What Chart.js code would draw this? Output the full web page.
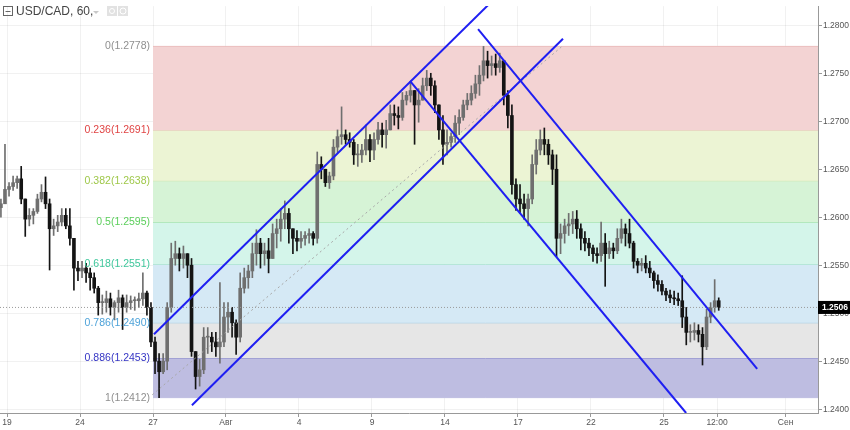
<!DOCTYPE html>
<html>
<head>
<meta charset="utf-8">
<script src="https://cdn.jsdelivr.net/npm/chart.js@4.4.0/dist/chart.umd.min.js"></script>
<style>
  html, body { margin: 0; padding: 0; background: #fff; }
  #wrap { width: 850px; height: 430px; }
</style>
</head>
<body>
<div id="wrap"><canvas id="fxChart" width="850" height="430"></canvas></div>
<script>
// ---- dane ----
const symbolTitle = 'USD/CAD, 60,';

// os X w dniach handlowych (0 = 19 lipca)
const xMin = -0.288;
const xMax = 33.33;
const xTickDays = [0, 3, 6, 9, 12, 15, 18, 21, 24, 27, 29.18, 32];
const xTickLabels = ['19', '24', '27', 'Авг', '4', '9', '14', '17', '22', '25', '12:00', 'Сен'];

const yMin = 1.2396;
const yMax = 1.2820;
const yTicks = [1.2400, 1.2450, 1.2500, 1.2550, 1.2600, 1.2650, 1.2700, 1.2750, 1.2800];

// swiece co ~4h
const candleStartDay = -0.25;
const candleStepDay = 1 / 6;
const firstOpen = 1.2610;

const highs = [1.2619,1.2676,1.2636,1.2643,1.2643,1.2653,1.2614,1.2609,1.2609,1.2624,
1.2634,1.2642,1.2619,1.2598,1.2602,1.2609,1.2609,1.2609,1.2578,1.2554,
1.2554,1.2552,1.2547,1.2542,1.2528,1.2519,1.2523,1.2521,1.2513,1.2524,
1.2519,1.2519,1.2518,1.2517,1.2521,1.2542,1.2523,1.2511,1.2475,1.2458,
1.2458,1.2511,1.2573,1.2575,1.2568,1.2570,1.2562,1.2557,1.2455,1.2452,
1.2485,1.2485,1.2480,1.2480,1.2532,1.2511,1.2511,1.2506,1.2493,1.2542,
1.2547,1.2550,1.2573,1.2587,1.2578,1.2573,1.2578,1.2593,1.2598,1.2609,
1.2617,1.2609,1.2588,1.2586,1.2585,1.2585,1.2588,1.2585,1.2668,1.2663,
1.2650,1.2647,1.2681,1.2691,1.2715,1.2691,1.2688,1.2681,1.2676,1.2676,
1.2696,1.2686,1.2688,1.2699,1.2698,1.2701,1.2717,1.2717,1.2715,1.2730,
1.2731,1.2740,1.2732,1.2734,1.2745,1.2753,1.2750,1.2742,1.2717,1.2706,
1.2691,1.2688,1.2706,1.2712,1.2722,1.2729,1.2737,1.2748,1.2758,1.2778,
1.2773,1.2768,1.2770,1.2771,1.2763,1.2732,1.2717,1.2640,1.2634,1.2624,
1.2624,1.2665,1.2681,1.2691,1.2693,1.2681,1.2670,1.2665,1.2593,1.2598,
1.2604,1.2606,1.2607,1.2593,1.2585,1.2578,1.2571,1.2568,1.2595,1.2583,
1.2575,1.2573,1.2588,1.2598,1.2593,1.2598,1.2575,1.2557,1.2557,1.2560,
1.2554,1.2544,1.2540,1.2534,1.2526,1.2524,1.2523,1.2521,1.2539,1.2506,
1.2488,1.2490,1.2488,1.2485,1.2504,1.2511,1.2535,1.2516];

const lows = [1.2600,1.2614,1.2622,1.2628,1.2630,1.2614,1.2580,1.2591,1.2593,1.2604,
1.2616,1.2609,1.2545,1.2581,1.2585,1.2591,1.2588,1.2571,1.2524,1.2534,
1.2537,1.2532,1.2524,1.2521,1.2498,1.2499,1.2501,1.2498,1.2493,1.2501,
1.2483,1.2501,1.2504,1.2503,1.2506,1.2508,1.2498,1.2465,1.2437,1.2412,
1.2437,1.2441,1.2501,1.2550,1.2544,1.2547,1.2537,1.2455,1.2421,1.2424,
1.2437,1.2458,1.2460,1.2455,1.2448,1.2465,1.2480,1.2475,1.2457,1.2470,
1.2521,1.2526,1.2537,1.2550,1.2547,1.2550,1.2542,1.2557,1.2568,1.2575,
1.2588,1.2573,1.2562,1.2565,1.2568,1.2571,1.2573,1.2571,1.2573,1.2640,
1.2632,1.2630,1.2639,1.2667,1.2676,1.2676,1.2673,1.2655,1.2653,1.2657,
1.2665,1.2658,1.2660,1.2676,1.2673,1.2672,1.2691,1.2696,1.2692,1.2701,
1.2717,1.2720,1.2676,1.2699,1.2722,1.2732,1.2727,1.2709,1.2681,1.2655,
1.2665,1.2673,1.2678,1.2686,1.2701,1.2712,1.2717,1.2724,1.2727,1.2742,
1.2745,1.2748,1.2748,1.2751,1.2717,1.2693,1.2624,1.2607,1.2604,1.2598,
1.2591,1.2614,1.2645,1.2665,1.2665,1.2655,1.2634,1.2559,1.2562,1.2573,
1.2581,1.2583,1.2578,1.2566,1.2565,1.2560,1.2554,1.2552,1.2554,1.2528,
1.2557,1.2557,1.2562,1.2573,1.2570,1.2568,1.2547,1.2542,1.2544,1.2542,
1.2537,1.2526,1.2523,1.2519,1.2513,1.2511,1.2509,1.2508,1.2485,1.2467,
1.2470,1.2472,1.2470,1.2446,1.2462,1.2490,1.2501,1.2503];

const closes = [1.2614,1.2629,1.2632,1.2636,1.2640,1.2619,1.2598,1.2602,1.2606,1.2619,
1.2626,1.2614,1.2588,1.2591,1.2595,1.2602,1.2591,1.2578,1.2547,1.2544,
1.2547,1.2542,1.2537,1.2526,1.2511,1.2511,1.2515,1.2506,1.2511,1.2516,
1.2506,1.2511,1.2513,1.2513,1.2515,1.2521,1.2506,1.2470,1.2450,1.2439,
1.2450,1.2506,1.2557,1.2562,1.2557,1.2562,1.2550,1.2460,1.2434,1.2441,
1.2475,1.2475,1.2470,1.2465,1.2470,1.2496,1.2501,1.2490,1.2475,1.2526,
1.2537,1.2544,1.2562,1.2573,1.2562,1.2565,1.2557,1.2583,1.2588,1.2598,
1.2604,1.2588,1.2578,1.2575,1.2578,1.2581,1.2583,1.2578,1.2655,1.2650,
1.2636,1.2643,1.2673,1.2684,1.2686,1.2681,1.2678,1.2665,1.2665,1.2670,
1.2681,1.2670,1.2681,1.2691,1.2686,1.2691,1.2708,1.2706,1.2704,1.2722,
1.2727,1.2732,1.2717,1.2722,1.2737,1.2745,1.2737,1.2717,1.2691,1.2676,
1.2678,1.2684,1.2698,1.2704,1.2717,1.2722,1.2729,1.2739,1.2748,1.2763,
1.2758,1.2760,1.2756,1.2763,1.2727,1.2706,1.2634,1.2619,1.2614,1.2609,
1.2619,1.2655,1.2670,1.2681,1.2676,1.2665,1.2650,1.2578,1.2583,1.2591,
1.2593,1.2598,1.2588,1.2578,1.2573,1.2568,1.2562,1.2560,1.2573,1.2562,
1.2568,1.2565,1.2578,1.2588,1.2583,1.2573,1.2554,1.2550,1.2552,1.2547,
1.2542,1.2534,1.2530,1.2523,1.2519,1.2516,1.2515,1.2513,1.2496,1.2480,
1.2480,1.2482,1.2478,1.2465,1.2496,1.2506,1.2513,1.2506];

const lastPrice = 1.2506;

// poziomy Fibonacciego
const fibStartDay = 6.0;
const fibRatios = ['0', '0.236', '0.382', '0.5', '0.618', '0.786', '0.886', '1'];
const fibPrices = [1.2778, 1.2691, 1.2638, 1.2595, 1.2551, 1.2490, 1.2453, 1.2412];
const fibLabelColors = ['#8f8f8f', '#e04444', '#9fc84a', '#5ccf5c', '#3fc79c', '#4fa3d9', '#3535c4', '#8f8f8f'];
const fibLineColors = ['#ebbcbc', '#e6a9a9', '#cfe3a6', '#93dc93', '#9adcc6', '#9cc8e2', '#7878c8', '#c4c3e4'];
const fibBandColors = ['#f3d3d3', '#ecf4d4', '#d6f3d6', '#d4f5ea', '#d5e9f5', '#e6e6e6', '#bebde1'];

// linie trendu (dzien, cena)
const riseUpper = [{ x: 6.04, y: 1.2478 }, { x: 19.93, y: 1.2825 }];
const riseLower = [{ x: 7.60, y: 1.2404 }, { x: 22.85, y: 1.2786 }];
const fallUpper = [{ x: 19.36, y: 1.2796 }, { x: 30.83, y: 1.2442 }];
const fallLower = [{ x: 16.56, y: 1.2742 }, { x: 27.91, y: 1.2396 }];
const fibTrend = [{ x: 5.97, y: 1.2415 }, { x: 22.81, y: 1.2778 }];

const upColor = '#6f6f6f';
const downColor = '#141414';
const lineBlue = '#1f1ff2';
const fontFam = '"Liberation Sans", Arial, sans-serif';

// ---- przygotowanie swiec ----
const candleDays = closes.map((c, i) => candleStartDay + i * candleStepDay);
const opens = closes.map((c, i) => i === 0 ? firstOpen : closes[i - 1]);
const wickData = candleDays.map((d, i) => ({
    x: d,
    y: [Math.min(lows[i], opens[i], closes[i]), Math.max(highs[i], opens[i], closes[i])]
}));
const bodyData = candleDays.map((d, i) => ({ x: d, y: [opens[i], closes[i]] }));
const candleColors = closes.map((c, i) => c >= opens[i] ? upColor : downColor);

const fibDatasets = fibPrices.map((p, i) => ({
    type: 'line',
    data: [{ x: fibStartDay, y: p }, { x: xMax, y: p }],
    borderColor: fibLineColors[i],
    borderWidth: 1,
    pointRadius: 0,
    fill: i < fibPrices.length - 1 ? '+1' : false,
    backgroundColor: fibBandColors[i] || 'transparent',
    order: 10
}));

function trendLine(points, color, width, dash) {
    return {
        type: 'line',
        data: points,
        borderColor: color,
        borderWidth: width,
        borderDash: dash || [],
        pointRadius: 0,
        fill: false,
        order: 1
    };
}

// napisy: tytul, etykiety fib, cena biezaca
const overlayPlugin = {
    id: 'overlay',
    afterDatasetsDraw(chart) {
        const { ctx, scales: { x, y } } = chart;
        ctx.save();
        ctx.font = '10.5px ' + fontFam;
        ctx.textAlign = 'right';
        ctx.textBaseline = 'middle';
        const lx = x.getPixelForValue(fibStartDay) - 3;
        fibPrices.forEach((p, i) => {
            ctx.fillStyle = fibLabelColors[i];
            ctx.fillText(fibRatios[i] + '(' + p.toFixed(4) + ')', lx, y.getPixelForValue(p));
        });
        ctx.restore();
    },
    afterDraw(chart) {
        const { ctx, chartArea, scales: { y } } = chart;
        ctx.save();
        // tytul
        ctx.strokeStyle = '#666';
        ctx.lineWidth = 1;
        ctx.strokeRect(3.5, 6.5, 9, 9);
        ctx.beginPath();
        ctx.moveTo(5.5, 11.5); ctx.lineTo(10.5, 11.5);
        ctx.stroke();
        ctx.fillStyle = '#444';
        ctx.font = '12px ' + fontFam;
        ctx.textAlign = 'left';
        ctx.textBaseline = 'middle';
        ctx.fillText(symbolTitle, 16, 12);
        ctx.fillStyle = '#c9c9c9';
        ctx.beginPath();
        ctx.moveTo(93, 11); ctx.lineTo(99, 11); ctx.lineTo(96, 14); ctx.closePath();
        ctx.fill();
        ctx.fillStyle = '#e2e2e2';
        ctx.fillRect(107, 6, 10, 10);
        ctx.fillRect(118, 6, 10, 10);
        ctx.strokeStyle = '#fff';
        ctx.beginPath(); ctx.arc(112, 11, 2.5, 0, Math.PI * 2); ctx.stroke();
        ctx.beginPath(); ctx.arc(123, 11, 3, 0, Math.PI * 2); ctx.stroke();

        // cena biezaca na osi
        const py = y.getPixelForValue(lastPrice);
        ctx.fillStyle = '#000';
        ctx.fillRect(chartArea.right, py - 6.5, 850 - chartArea.right, 13);
        ctx.fillStyle = '#fff';
        ctx.font = 'bold 8.5px ' + fontFam;
        ctx.fillText(lastPrice.toFixed(4), chartArea.right + 4, py);
        ctx.restore();
    }
};

const datasets = [
    ...fibDatasets,
    {
        type: 'bar',
        data: wickData,
        backgroundColor: candleColors,
        barThickness: 1,
        grouped: false,
        borderWidth: 0,
        order: 5
    },
    {
        type: 'bar',
        data: bodyData,
        backgroundColor: candleColors,
        barThickness: 3,
        minBarLength: 1,
        grouped: false,
        borderWidth: 0,
        order: 4
    },
    Object.assign(trendLine([{ x: xMin, y: lastPrice }, { x: xMax, y: lastPrice }], '#9a9a9a', 1, [1, 2]), { order: 3 }),
    Object.assign(trendLine(fibTrend, '#a8a8a8', 1, [2, 3]), { order: 3 }),
    trendLine(riseUpper, lineBlue, 2),
    trendLine(riseLower, lineBlue, 2),
    trendLine(fallUpper, lineBlue, 2),
    trendLine(fallLower, lineBlue, 2)
];

const config = {
    type: 'bar',
    data: { datasets: datasets },
    options: {
        responsive: false,
        animation: false,
        layout: { padding: 0 },
        plugins: {
            legend: { display: false },
            tooltip: { enabled: false }
        },
        scales: {
            x: {
                type: 'linear',
                min: xMin,
                max: xMax,
                offset: false,
                afterBuildTicks: (scale) => { scale.ticks = xTickDays.map(v => ({ value: v })); },
                afterFit: (scale) => { scale.height = 17; },
                grid: { offset: false, color: 'rgba(0,0,0,0.055)', tickColor: '#999', tickLength: 4 },
                border: { color: '#999' },
                ticks: {
                    autoSkip: false,
                    maxRotation: 0,
                    padding: 1,
                    color: '#555',
                    font: { family: fontFam, size: 8.5 },
                    callback: (value, index) => xTickLabels[index]
                }
            },
            y: {
                type: 'linear',
                position: 'right',
                min: yMin,
                max: yMax,
                afterBuildTicks: (scale) => { scale.ticks = yTicks.map(v => ({ value: v })); },
                afterFit: (scale) => { scale.width = 32; },
                grid: { color: 'rgba(0,0,0,0.055)', tickColor: '#999', tickLength: 4 },
                border: { color: '#999' },
                ticks: {
                    padding: 1,
                    color: '#555',
                    font: { family: fontFam, size: 8.5 },
                    callback: (value) => Number(value).toFixed(4)
                }
            }
        }
    },
    plugins: [overlayPlugin]
};

const ctx = document.getElementById('fxChart');
const fxChart = new Chart(ctx, config);
window.fxChart = fxChart;
</script>
</body>
</html>
